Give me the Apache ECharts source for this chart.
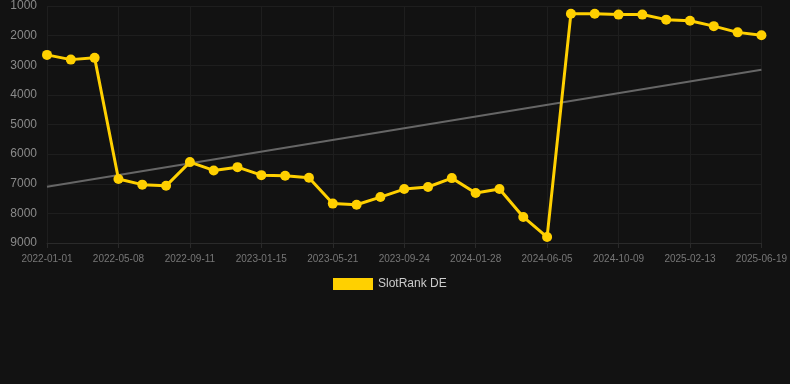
<!DOCTYPE html>
<html>
<head>
<meta charset="utf-8">
<style>
html,body{margin:0;padding:0;background:#121212;}
#chart{width:790px;height:384px;}
</style>
<script src="https://cdn.jsdelivr.net/npm/echarts@6/dist/echarts.min.js"></script>
</head>
<body>
<div id="chart"></div>
<script>
const categories = [
  "2022-01-01","2022-02-12","2022-03-26","2022-05-08","2022-06-19","2022-07-31",
  "2022-09-11","2022-10-23","2022-12-04","2023-01-15","2023-02-26","2023-04-09",
  "2023-05-21","2023-07-02","2023-08-13","2023-09-24","2023-11-05","2023-12-17",
  "2024-01-28","2024-03-10","2024-04-23","2024-06-05","2024-07-17","2024-08-28",
  "2024-10-09","2024-11-20","2025-01-01","2025-02-13","2025-03-27","2025-05-08",
  "2025-06-19"
];
const rankValues = [
  2650, 2810, 2750, 6840, 7030, 7070,
  6270, 6550, 6440, 6710, 6730, 6800,
  7670, 7710, 7450, 7180, 7110, 6810,
  7310, 7180, 8120, 8800, 1260, 1260,
  1290, 1290, 1460, 1500, 1680, 1890,
  1990
];
const trendStart = 7100;
const trendEnd = 3150;
const seriesName = "SlotRank DE";

const trendData = categories.map((c, i) =>
  i === 0 ? trendStart : (i === categories.length - 1 ? trendEnd : null));

const chart = echarts.init(document.getElementById('chart'), null, {renderer: 'canvas'});
chart.setOption({
  backgroundColor: '#121212',
  animation: false,
  grid: {left: 47, right: 28, top: 6, bottom: 141, containLabel: false},
  legend: {
    data: [seriesName],
    top: 273,
    left: 328,
    itemWidth: 40,
    itemHeight: 12,
    itemGap: 6,
    icon: 'rect',
    textStyle: {color: '#cccccc', fontSize: 12, fontFamily: 'Arial, Liberation Sans, sans-serif'}
  },
  xAxis: {
    type: 'category',
    data: categories,
    boundaryGap: false,
    axisLine: {show: true, lineStyle: {color: '#2a2a2a'}},
    axisTick: {show: true, interval: 2, lineStyle: {color: '#2a2a2a'}},
    axisLabel: {interval: 2, color: '#777777', fontSize: 10, margin: 11, fontFamily: 'Arial, Liberation Sans, sans-serif'},
    splitLine: {show: true, interval: 2, lineStyle: {color: '#1e1e1e'}}
  },
  yAxis: {
    type: 'value',
    inverse: true,
    min: 1000,
    max: 9000,
    interval: 1000,
    axisLine: {show: false},
    axisTick: {show: false},
    axisLabel: {color: '#8a8a8a', fontSize: 12, margin: 10, formatter: v => String(v), fontFamily: 'Arial, Liberation Sans, sans-serif'},
    splitLine: {show: true, lineStyle: {color: '#1e1e1e'}}
  },
  series: [
    {
      name: seriesName,
      type: 'line',
      data: rankValues,
      color: '#FFD000',
      lineStyle: {width: 3, color: '#FFD000'},
      itemStyle: {color: '#FFD000'},
      symbol: 'circle',
      symbolSize: 10,
      z: 3
    },
    {
      name: 'trend',
      type: 'line',
      data: trendData,
      connectNulls: true,
      symbol: 'none',
      lineStyle: {width: 2, color: '#666666'},
      z: 2
    }
  ]
});
</script>
</body>
</html>
